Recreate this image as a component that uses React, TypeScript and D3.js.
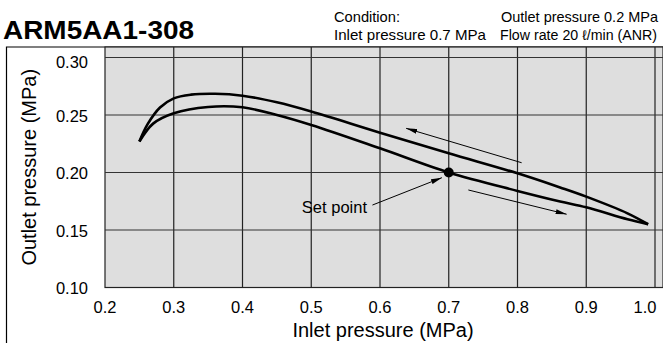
import React from 'react';
import * as d3 from 'd3';

const xTicks = [0.2, 0.3, 0.4, 0.5, 0.6, 0.7, 0.8, 0.9, 1.0];
const yTicks = [0.10, 0.15, 0.20, 0.25, 0.30];

// decreasing inlet pressure branch (upper)
const upperX = [0.25, 0.262, 0.28, 0.30, 0.325, 0.36, 0.40, 0.45, 0.50, 0.60, 0.70, 0.80, 0.862, 0.90, 0.96, 0.99];
const upperY = [0.227, 0.242, 0.2565, 0.2645, 0.2677, 0.2685, 0.2668, 0.261, 0.253, 0.2346, 0.2167, 0.1993, 0.187, 0.179, 0.1645, 0.155];
// increasing inlet pressure branch (lower)
const lowerX = [0.25, 0.27, 0.30, 0.35, 0.40, 0.45, 0.50, 0.60, 0.70, 0.80, 0.862, 0.90, 0.96, 0.99];
const lowerY = [0.227, 0.2425, 0.2515, 0.257, 0.2567, 0.250, 0.2413, 0.221, 0.200, 0.184, 0.1748, 0.1697, 0.1593, 0.155];

const setPoint = [0.70, 0.200];
// arrows: [x1, y1, x2 (tip), y2 (tip)]
const arrows = [
  [0.806, 0.2085, 0.638, 0.2384],
  [0.7285, 0.1848, 0.8715, 0.1637],
  [0.589, 0.1717, 0.690, 0.1955],
];

const W = 663, H = 343;
const font = '"Liberation Sans", Arial, Helvetica, sans-serif';

export default function App() {
  const x = d3.scaleLinear().domain([0.2, 1.0]).range([105, 655]);
  const y = d3.scaleLinear().domain([0.10, 0.30]).range([287.5, 57.5]);
  const plotTop = 47;
  const plotLeft = x(0.2), plotBottom = y(0.10);

  const line = d3.line<[number, number]>().x(d => x(d[0])).y(d => y(d[1])).curve(d3.curveCatmullRom.alpha(0.5));
  const up = line(upperX.map((v, i) => [v, upperY[i]] as [number, number])) || '';
  const lo = line(lowerX.map((v, i) => [v, lowerY[i]] as [number, number])) || '';

  return (
    <svg width={W} height={H} style={{ display: 'block', position: 'absolute', left: 0, top: 0 }}
      fontFamily={font}>
      <defs>
        <marker id="ah" viewBox="0 0 11 5" refX="11" refY="2.5" markerWidth="11" markerHeight="5"
          markerUnits="userSpaceOnUse" orient="auto">
          <path d="M0,0 L11,2.5 L0,5 Z" fill="#000" />
        </marker>
      </defs>
      <rect x={0} y={0} width={W} height={H} fill="#fff" />

      <text x={3} y={38.5} fontSize={25} fontWeight="bold" textLength={191} lengthAdjust="spacingAndGlyphs">ARM5AA1-308</text>
      <text x={334} y={22} fontSize={15} textLength={66} lengthAdjust="spacingAndGlyphs">Condition:</text>
      <text x={334} y={39.5} fontSize={15} textLength={152} lengthAdjust="spacingAndGlyphs">Inlet pressure  0.7 MPa</text>
      <text x={501} y={22} fontSize={15} textLength={157} lengthAdjust="spacingAndGlyphs">Outlet pressure  0.2 MPa</text>
      <text x={500} y={39.5} fontSize={14} textLength={157} lengthAdjust="spacingAndGlyphs">Flow rate  20 ℓ/min (ANR)</text>

      {/* outer frame */}
      <path d={`M6.5,${H} V${plotTop} H${W}`} fill="none" stroke="#000" strokeWidth={1.2} />

      {/* plot area */}
      <rect x={plotLeft} y={plotTop} width={W - plotLeft} height={plotBottom - plotTop} fill="#dedede" stroke="#222" strokeWidth={1.2} />
      {xTicks.slice(1).map(t => (
        <line key={'gx' + t} x1={x(t)} x2={x(t)} y1={plotTop} y2={plotBottom} stroke="#222" strokeWidth={1.2} />
      ))}
      {yTicks.slice(1).map(t => (
        <line key={'gy' + t} x1={plotLeft} x2={W} y1={y(t)} y2={y(t)} stroke="#333" strokeWidth={1.2} />
      ))}

      {yTicks.map((t, i) => (
        <text key={'ty' + t} x={88} y={y(t) + (i === yTicks.length - 1 ? 4.5 : 1)} dy="0.36em" textAnchor="end" fontSize={16.5}>
          {d3.format('.2f')(t)}
        </text>
      ))}
      {xTicks.map(t => (
        <text key={'tx' + t} x={Math.min(x(t), W - 18)} y={313} textAnchor="middle" fontSize={16.5}>{d3.format('.1f')(t)}</text>
      ))}

      <text x={383} y={337} textAnchor="middle" fontSize={20}>Inlet pressure (MPa)</text>
      <text transform={`translate(36,${(plotTop + plotBottom) / 2}) rotate(-90)`} textAnchor="middle" fontSize={20}>
        Outlet pressure (MPa)
      </text>

      <path d={up} fill="none" stroke="#000" strokeWidth={2.6} strokeLinejoin="round" />
      <path d={lo} fill="none" stroke="#000" strokeWidth={2.6} strokeLinejoin="round" />

      {arrows.map((a, i) => (
        <line key={'ar' + i} x1={x(a[0])} y1={y(a[1])} x2={x(a[2])} y2={y(a[3])} stroke="#000" strokeWidth={1} markerEnd="url(#ah)" />
      ))}
      <circle cx={x(setPoint[0])} cy={y(setPoint[1])} r={5} fill="#000" />
      <text x={367} y={213} textAnchor="end" fontSize={16.5}>Set point</text>
    </svg>
  );
}
